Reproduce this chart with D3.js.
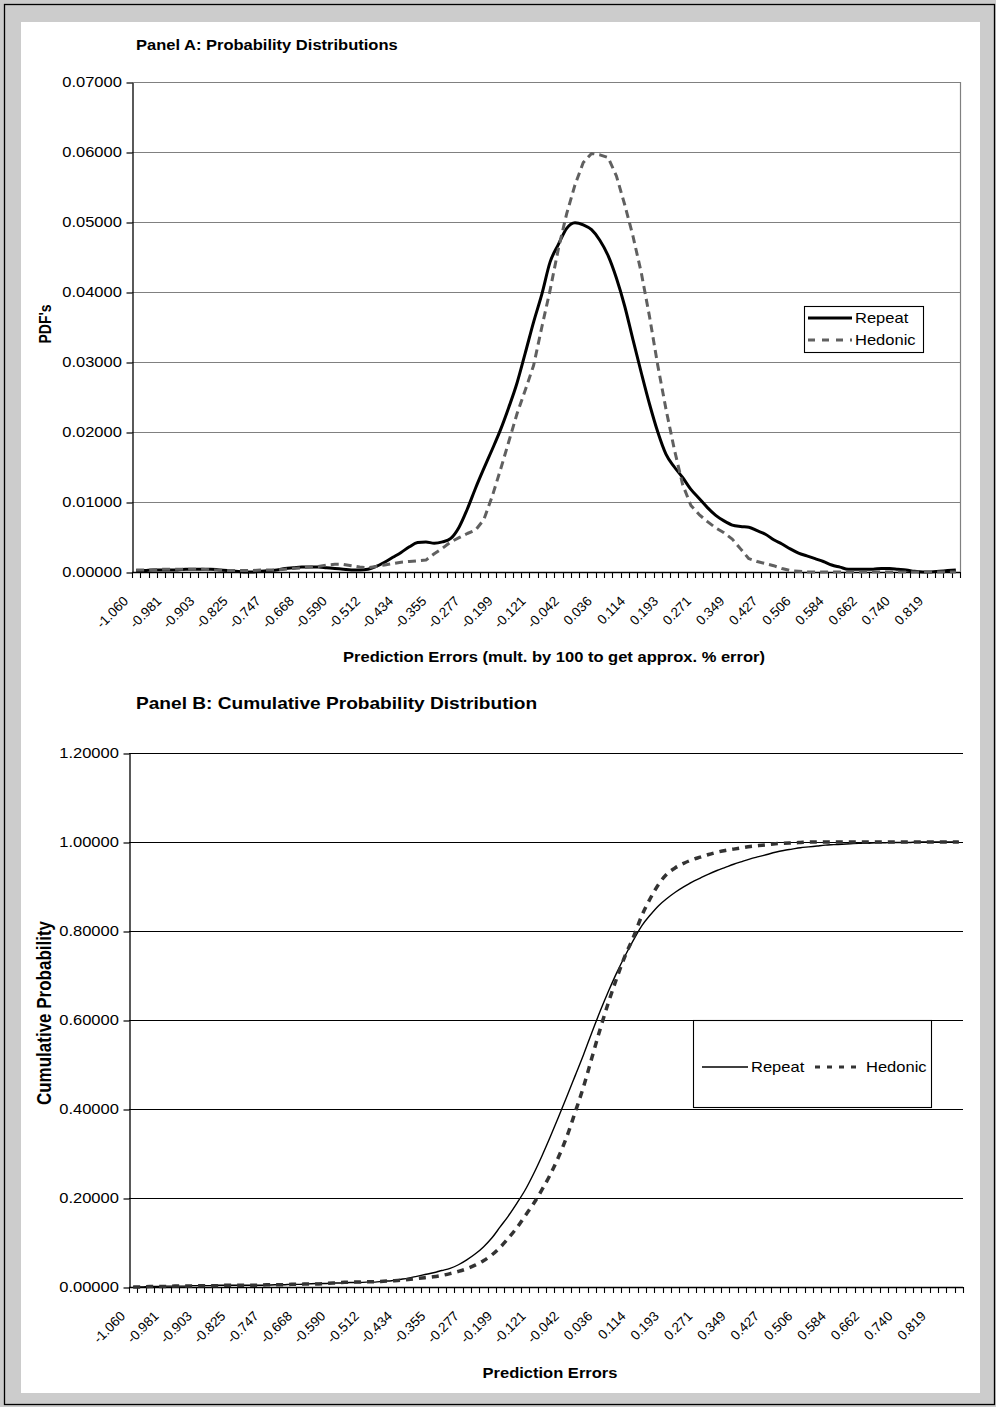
<!DOCTYPE html>
<html><head><meta charset="utf-8">
<script src="https://cdn.jsdelivr.net/npm/d3@7"></script>
<style>body{margin:0;background:#fff}svg{display:block}text{font-family:"Liberation Sans",Arial,sans-serif}</style>
</head><body><svg id="c" width="996" height="1407"></svg>
<script>
const categories = ["-1.060","-1.040","-1.021","-1.001","-0.981","-0.962","-0.942","-0.923","-0.903","-0.883",
"-0.864","-0.844","-0.825","-0.805","-0.786","-0.766","-0.747","-0.727","-0.707","-0.688",
"-0.668","-0.649","-0.629","-0.610","-0.590","-0.571","-0.551","-0.531","-0.512","-0.492",
"-0.473","-0.453","-0.434","-0.414","-0.394","-0.375","-0.355","-0.336","-0.316","-0.297",
"-0.277","-0.258","-0.238","-0.218","-0.199","-0.179","-0.160","-0.140","-0.121","-0.101",
"-0.081","-0.062","-0.042","-0.023","-0.003","0.016","0.036","0.055","0.075","0.094",
"0.114","0.134","0.153","0.173","0.193","0.212","0.232","0.251","0.271","0.290",
"0.310","0.329","0.349","0.369","0.388","0.408","0.427","0.447","0.466","0.486",
"0.506","0.525","0.545","0.564","0.584","0.603","0.623","0.643","0.662","0.682",
"0.701","0.721","0.740","0.760","0.780","0.799","0.819","0.838","0.858","0.877"];
const tickLabels = ["-1.060","-0.981","-0.903","-0.825","-0.747","-0.668","-0.590","-0.512","-0.434","-0.355",
"-0.277","-0.199","-0.121","-0.042","0.036","0.114","0.193","0.271","0.349","0.427",
"0.506","0.584","0.662","0.740","0.819"];
const seriesNames = ["Repeat","Hedonic"];
const repeatPdf = [0.0002,0.0002,0.0003,0.0003,0.0003,0.0003,0.0004,0.0004,0.0004,0.0004,
0.0003,0.0002,0.0001,0.0000,0.0000,0.0001,0.0002,0.0003,0.0005,0.0006,
0.0007,0.0007,0.0007,0.0006,0.0005,0.0004,0.0003,0.0003,0.0004,0.0008,
0.0014,0.0021,0.0028,0.0036,0.0042,0.0043,0.0041,0.0043,0.0048,0.0064,
0.0090,0.0120,0.0148,0.0175,0.0203,0.0235,0.0270,0.0313,0.0357,0.0397,
0.0443,0.0468,0.0491,0.0499,0.0496,0.0489,0.0474,0.0452,0.0420,0.0380,
0.0332,0.0285,0.0240,0.0200,0.0168,0.0150,0.0135,0.0118,0.0105,0.0092,
0.0081,0.0073,0.0067,0.0065,0.0064,0.0059,0.0054,0.0046,0.0040,0.0033,
0.0027,0.0023,0.0019,0.0015,0.0010,0.0007,0.0004,0.0004,0.0004,0.0004,
0.0005,0.0005,0.0004,0.0003,0.0001,0.0000,0.0000,0.0001,0.0002,0.0003];
const hedonicPdf = [0.0003,0.0003,0.0003,0.0004,0.0004,0.0004,0.0004,0.0004,0.0004,0.0003,
0.0003,0.0002,0.0002,0.0002,0.0002,0.0003,0.0003,0.0003,0.0004,0.0005,
0.0006,0.0007,0.0008,0.0010,0.0011,0.0011,0.0009,0.0007,0.0006,0.0008,
0.0010,0.0012,0.0014,0.0015,0.0016,0.0017,0.0026,0.0034,0.0043,0.0049,
0.0055,0.0060,0.0075,0.0108,0.0146,0.0186,0.0226,0.0260,0.0295,0.0350,
0.0403,0.0462,0.0512,0.0553,0.0585,0.0598,0.0596,0.0592,0.0566,0.0525,
0.0480,0.0428,0.0365,0.0295,0.0232,0.0175,0.0125,0.0095,0.0082,0.0072,
0.0063,0.0056,0.0047,0.0033,0.0019,0.0015,0.0012,0.0009,0.0005,0.0002,
0.0001,0.0000,0.0000,0.0000,0.0000,0.0000,0.0000,0.0000,0.0000,0.0000,
0.0000,0.0000,0.0000,0.0000,0.0000,0.0000,0.0000,0.0000,0.0000,0.0000];
const repeatCdf = [0.000,0.000,0.001,0.001,0.002,0.002,0.002,0.003,0.003,0.003,
0.004,0.004,0.004,0.004,0.004,0.004,0.004,0.005,0.005,0.006,
0.006,0.007,0.008,0.008,0.009,0.009,0.010,0.010,0.011,0.011,
0.013,0.014,0.017,0.020,0.024,0.028,0.032,0.037,0.042,0.050,
0.061,0.074,0.090,0.110,0.135,0.160,0.188,0.218,0.254,0.294,
0.337,0.382,0.428,0.475,0.522,0.572,0.620,0.665,0.707,0.745,
0.780,0.812,0.836,0.857,0.873,0.887,0.899,0.910,0.919,0.928,
0.936,0.943,0.950,0.956,0.962,0.967,0.972,0.977,0.981,0.984,
0.987,0.989,0.991,0.993,0.994,0.995,0.996,0.997,0.997,0.998,
0.998,0.999,0.999,0.999,1.000,1.000,1.000,1.000,1.000,1.000];
const hedonicCdf = [0.000,0.000,0.001,0.001,0.001,0.002,0.002,0.002,0.003,0.003,
0.003,0.004,0.004,0.004,0.004,0.004,0.005,0.005,0.005,0.006,
0.006,0.007,0.007,0.008,0.009,0.010,0.011,0.011,0.012,0.012,
0.013,0.014,0.015,0.017,0.019,0.021,0.023,0.026,0.030,0.035,
0.041,0.049,0.059,0.072,0.089,0.110,0.133,0.160,0.187,0.218,
0.252,0.292,0.338,0.393,0.450,0.515,0.580,0.640,0.695,0.745,
0.787,0.835,0.873,0.905,0.928,0.942,0.952,0.960,0.966,0.972,
0.977,0.981,0.984,0.987,0.990,0.992,0.994,0.996,0.997,0.998,
0.999,1.000,1.000,1.000,1.000,1.000,1.000,1.000,1.000,1.000,
1.000,1.000,1.000,1.000,1.000,1.000,1.000,1.000,1.000,1.000];
const pdfTicks = [0,0.01,0.02,0.03,0.04,0.05,0.06,0.07];
const cdfTicks = [0,0.2,0.4,0.6,0.8,1.0,1.2];

const SX = 1.18;
const FS = 14;
const svg = d3.select("#c");
svg.append("rect").attr("width",996).attr("height",1407).attr("fill","#cccccc");
svg.append("rect").attr("x",4.5).attr("y",4.5).attr("width",990).attr("height",1400)
  .attr("fill","none").attr("stroke","#000").attr("stroke-width",1.3);
svg.append("rect").attr("x",21).attr("y",22).attr("width",959).attr("height",1371).attr("fill","#fff");

function stext(g, x, y, str, o = {}) {
  const sx = o.noStretch ? 1 : SX;
  const rot = o.rotate ? ` rotate(${o.rotate})` : "";
  return g.append("text")
    .attr("transform", `translate(${x},${y}) scale(${sx},1)${rot}`)
    .attr("text-anchor", o.anchor || "start")
    .attr("font-size", o.size || FS)
    .attr("font-weight", o.bold ? "bold" : "normal")
    .attr("fill", "#000")
    .text(str);
}

function panel(cfg) {
  const g = svg.append("g");
  const x = d3.scaleBand().domain(categories).range([cfg.left, cfg.right]);
  const y = d3.scaleLinear().domain([0, cfg.ymax]).range([cfg.bottom, cfg.top]);
  const cx = c => x(c) + x.bandwidth() / 2;

  g.selectAll(".grid").data(cfg.ticks.filter(t => t > 0)).join("line")
    .attr("x1", cfg.left).attr("x2", cfg.right)
    .attr("y1", d => Math.round(y(d)) + 0.5).attr("y2", d => Math.round(y(d)) + 0.5)
    .attr("stroke", cfg.gridColor).attr("stroke-width", 1.2);
  if (cfg.rightBorder) {
    g.append("line").attr("x1", cfg.right + 0.5).attr("x2", cfg.right + 0.5)
      .attr("y1", y(cfg.ymax)).attr("y2", cfg.bottom)
      .attr("stroke", cfg.gridColor).attr("stroke-width", 1.2);
  }

  const yAxis = d3.axisLeft(y).tickValues(cfg.ticks).tickFormat(d3.format(".5f"))
    .tickSize(6).tickSizeOuter(0).tickPadding(3);
  const ya = g.append("g").attr("transform", `translate(${cfg.left + 0.5},0.5)`).call(yAxis);
  ya.select(".domain").attr("stroke", "#000").attr("stroke-width", 1.3);
  ya.selectAll(".tick line").attr("stroke", "#000").attr("stroke-width", 1.2);
  ya.selectAll(".tick text").attr("font-size", FS).attr("font-family", '"Liberation Sans",Arial,sans-serif')
    .attr("fill", "#000").attr("transform", `scale(${SX},1)`);

  g.append("line").attr("x1", cfg.left).attr("x2", cfg.right)
    .attr("y1", cfg.bottom + 0.5).attr("y2", cfg.bottom + 0.5)
    .attr("stroke", "#000").attr("stroke-width", 1.3);
  const bounds = categories.map(c => x(c)).concat([cfg.right]);
  g.selectAll(".xt").data(bounds).join("line")
    .attr("x1", d => Math.round(d) + 0.5).attr("x2", d => Math.round(d) + 0.5)
    .attr("y1", cfg.bottom).attr("y2", cfg.bottom + 6)
    .attr("stroke", "#000").attr("stroke-width", 1.1);
  categories.forEach(c => {
    if (tickLabels.includes(c)) {
      stext(g, cx(c) - 7, cfg.bottom + 30, c, { anchor: "end", rotate: -45, noStretch: true, size: 13.5 });
    }
  });

  cfg.series.forEach(s => {
    const line = d3.line().x((d, i) => cx(categories[i])).y(d => y(d)).curve(s.curve);
    g.append("path").datum(s.values).attr("d", line)
      .attr("fill", "none").attr("stroke", s.color).attr("stroke-width", s.width)
      .attr("stroke-dasharray", s.dash || null).attr("stroke-linejoin", "round");
  });

  stext(g, cfg.titleX, cfg.titleY, cfg.title, { bold: true, size: cfg.titleSize });
  stext(g, cfg.xTitleX, cfg.xTitleY, cfg.xTitle, { bold: true, anchor: "middle" });
  stext(g, cfg.yTitleX, cfg.yTitleY, cfg.yTitle, { bold: true, anchor: "middle", rotate: -90, size: cfg.yTitleSize });

  const L = cfg.legend;
  g.append("rect").attr("x", L.x + 0.5).attr("y", L.y + 0.5).attr("width", L.w).attr("height", L.h)
    .attr("fill", "#fff").attr("stroke", "#000").attr("stroke-width", 1.1);
  L.items.forEach((it, k) => {
    const s = cfg.series[k];
    g.append("line").attr("x1", it.x1).attr("x2", it.x2).attr("y1", it.y).attr("y2", it.y)
      .attr("stroke", s.color).attr("stroke-width", it.width || s.width).attr("stroke-dasharray", it.dash || null);
    stext(g, it.tx, it.y + 5, seriesNames[k]);
  });
}

panel({
  left: 132, right: 960, top: 82, bottom: 572, ymax: 0.07, ticks: pdfTicks,
  gridColor: "#808080", rightBorder: true,
  title: "Panel A: Probability Distributions", titleX: 136, titleY: 50, titleSize: 14,
  xTitle: "Prediction Errors (mult. by 100 to get approx. % error)", xTitleX: 554, xTitleY: 662,
  yTitle: "PDF's", yTitleX: 51, yTitleY: 324, yTitleSize: 14,
  series: [
    { values: repeatPdf, color: "#000", width: 3, curve: d3.curveMonotoneX },
    { values: hedonicPdf, color: "#606060", width: 3, dash: "8,5", curve: d3.curveLinear }
  ],
  legend: { x: 804, y: 306, w: 119, h: 46, items: [
    { x1: 808, x2: 852, y: 318, tx: 855 },
    { x1: 808, x2: 852, y: 340, tx: 855, dash: "7,7" }
  ]}
});

panel({
  left: 129, right: 963, top: 753, bottom: 1287, ymax: 1.2, ticks: cdfTicks,
  gridColor: "#000", rightBorder: false,
  title: "Panel B: Cumulative Probability Distribution", titleX: 136, titleY: 709, titleSize: 16.2,
  xTitle: "Prediction Errors", xTitleX: 550, xTitleY: 1378,
  yTitle: "Cumulative Probability", yTitleX: 51, yTitleY: 1013, yTitleSize: 17,
  series: [
    { values: repeatCdf, color: "#000", width: 1.4, curve: d3.curveMonotoneX },
    { values: hedonicCdf, color: "#333", width: 3.5, dash: "7,6", curve: d3.curveMonotoneX }
  ],
  legend: { x: 693, y: 1020, w: 238, h: 87, items: [
    { x1: 702, x2: 748, y: 1067, tx: 751 },
    { x1: 815, x2: 857, y: 1067, tx: 866, dash: "5,7", width: 3 }
  ]}
});
</script></body></html>
